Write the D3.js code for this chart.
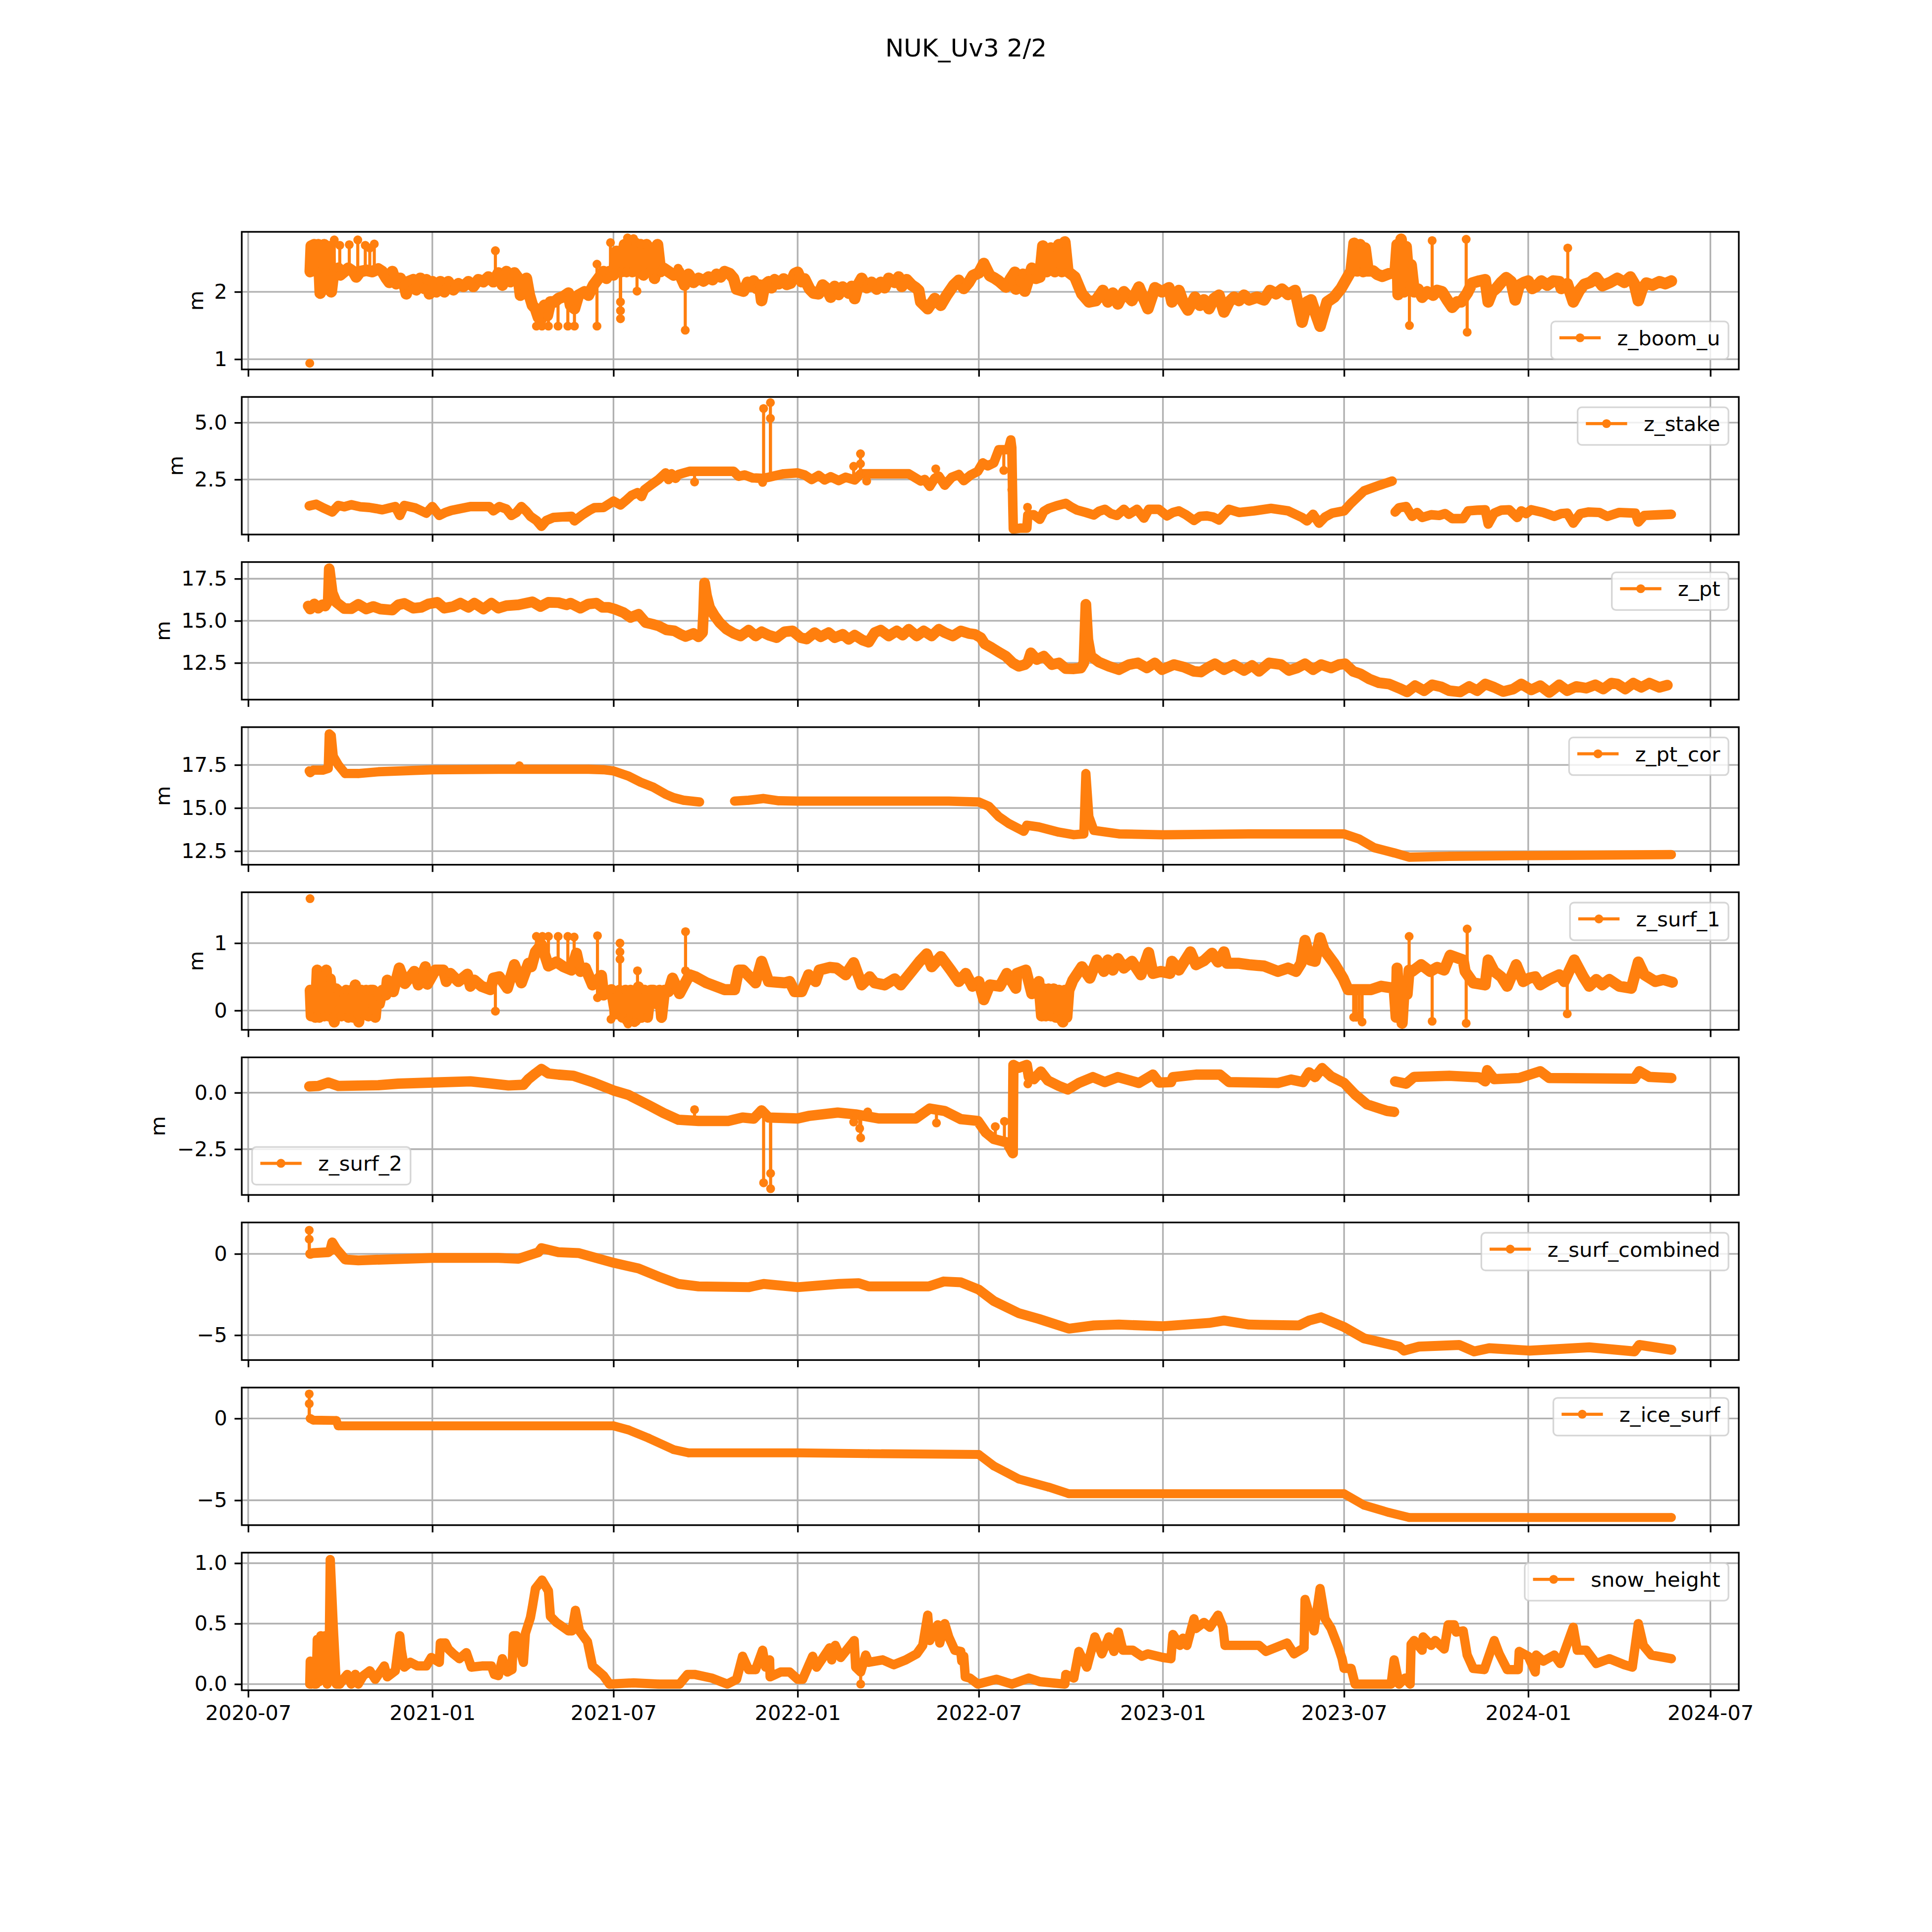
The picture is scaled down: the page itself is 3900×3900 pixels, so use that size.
<!DOCTYPE html>
<html>
<head>
<meta charset="utf-8">
<script src="https://cdn.jsdelivr.net/npm/d3@7"></script>
<style>
body { margin: 0; background: #fff; }
text { font-family: "DejaVu Sans", sans-serif; fill: #000; }
</style>
</head>
<body>
<div id="chart"></div>
<script>
// values: [days since 2020-07-01, value]
// null marks a data gap, spikes are [day, from, to] (from null = lone point)
const tickLabels = ["2020-07","2021-01","2021-07","2022-01","2022-07","2023-01","2023-07","2024-01","2024-07"];

const zBoomU = [[62,2.3],[63,2.68],[66,2.7],[68,2.3],[70,2.7],[72,1.98],[74,2.05],[76,2.7],[78,2.3],[81,2.67],[83,2.0],[85,2.25],[88,2.28],[90,2.35],[92,2.25],[96,2.3],[100,2.35],[105,2.3],[108,2.22],[112,2.3],[118,2.32],[124,2.3],[130,2.34],[134,2.3],[138,2.2],[141,2.14],[144,2.3],[148,2.12],[152,2.2],[156,2.1],[158,1.97],[160,2.15],[165,2.18],[168,2.03],[172,2.2],[176,2.05],[178,2.18],[181,1.97],[184,2.15],[188,2.0],[192,2.15],[196,2.0],[200,2.15],[205,2.03],[210,2.12],[215,2.08],[220,2.15],[225,2.08],[230,2.18],[235,2.15],[240,2.22],[245,2.15],[250,2.28],[254,2.1],[258,2.3],[262,2.15],[266,2.28],[270,2.2],[272,1.95],[276,2.0],[278,2.2],[281,1.95],[284,1.8],[287,1.75],[290,1.62],[293,1.6],[296,1.8],[299,1.65],[302,1.85],[306,1.85],[310,1.9],[315,1.93],[320,1.98],[322,1.8],[326,1.75],[330,1.95],[336,2.0],[340,1.95],[345,2.1],[350,2.2],[355,2.3],[358,2.2],[361,2.3],[365,2.25],[368,2.6],[370,2.3],[373,2.3],[376,2.7],[378,2.3],[381,2.75],[384,2.3],[387,2.72],[389,2.35],[392,2.7],[395,2.25],[398,2.7],[401,2.3],[404,2.65],[406,2.2],[409,2.7],[412,2.3],[415,2.35],[420,2.3],[425,2.25],[430,2.3],[436,2.1],[440,2.26],[445,2.14],[450,2.2],[455,2.16],[460,2.22],[464,2.18],[468,2.26],[472,2.22],[476,2.3],[481,2.27],[485,2.2],[488,2.04],[495,2.01],[499,2.14],[502,2.08],[505,2.16],[508,2.05],[511,2.1],[513,1.87],[516,2.1],[520,2.15],[523,2.06],[526,2.18],[530,2.12],[535,2.19],[538,2.11],[542,2.13],[546,2.27],[549,2.29],[553,2.15],[556,2.19],[561,2.04],[565,1.98],[570,1.97],[574,2.1],[578,2.05],[582,1.92],[586,2.08],[590,1.96],[594,2.07],[600,1.98],[603,2.08],[606,1.9],[610,2.12],[613,2.2],[618,2.06],[623,2.14],[628,2.04],[632,2.14],[636,2.06],[640,2.2],[646,2.14],[650,2.22],[653,2.08],[658,2.18],[663,2.1],[667,2.06],[670,2.02],[672,1.85],[679,1.75],[686,1.9],[692,1.8],[698,1.95],[705,2.1],[710,2.17],[715,2.05],[720,2.14],[724,2.24],[730,2.28],[735,2.42],[741,2.24],[746,2.2],[750,2.16],[757,2.07],[762,2.2],[766,2.29],[767,2.04],[771,2.15],[774,2.26],[776,2.01],[780,2.2],[783,2.35],[787,2.2],[791,2.22],[794,2.68],[798,2.3],[802,2.65],[806,2.3],[810,2.7],[813,2.3],[816,2.74],[819,2.3],[826,2.22],[833,1.97],[840,1.85],[847,1.87],[854,2.02],[859,1.85],[864,1.98],[869,1.82],[875,2.0],[883,1.87],[890,2.07],[899,1.75],[906,2.06],[913,2.0],[920,2.06],[923,1.85],[930,2.02],[934,1.85],[939,1.73],[946,1.92],[951,1.8],[955,1.88],[960,1.75],[965,1.9],[970,1.95],[975,1.7],[980,1.85],[985,1.92],[990,1.87],[995,1.95],[1000,1.88],[1008,1.92],[1015,1.88],[1021,2.02],[1027,1.97],[1033,2.04],[1039,1.96],[1046,2.02],[1053,1.55],[1058,1.85],[1062,1.88],[1066,1.7],[1071,1.49],[1078,1.85],[1085,1.92],[1092,2.05],[1102,2.31],[1105,2.72],[1108,2.31],[1111,2.7],[1114,2.3],[1116,2.65],[1119,2.31],[1124,2.31],[1128,2.26],[1133,2.23],[1140,2.27],[1146,2.29],[1148,2.7],[1149,1.96],[1152,2.78],[1155,2.0],[1157,2.67],[1160,2.1],[1162,2.4],[1165,2.0],[1169,2.04],[1173,1.92],[1178,2.0],[1184,1.95],[1188,2.02],[1193,2.0],[1198,1.88],[1203,1.77],[1208,1.85],[1212,1.85],[1218,1.98],[1223,2.13],[1230,2.16],[1236,2.18],[1239,1.85],[1243,2.0],[1247,2.05],[1252,2.14],[1257,2.21],[1262,2.15],[1266,1.88],[1270,2.1],[1275,2.14],[1279,2.16],[1283,2.05],[1287,2.08],[1292,2.16],[1298,2.1],[1304,2.16],[1310,2.15],[1312,2.05],[1318,2.12],[1324,1.85],[1330,2.02],[1335,2.11],[1341,2.14],[1347,2.21],[1353,2.09],[1361,2.14],[1368,2.2],[1375,2.14],[1381,2.22],[1385,2.12],[1389,1.87],[1393,2.05],[1397,2.13],[1403,2.1],[1410,2.15],[1416,2.12],[1422,2.16]];
const zBoomUSpikes = [[61.5,null,0.94],[86,2.3,2.77],[91.5,2.3,2.69],[101,2.35,2.7],[109.5,2.25,2.77],[117,2.3,2.69],[121.5,2.3,2.65],[126,2.3,2.71],[247,2.2,2.61],[288,1.75,1.49],[293.5,1.7,1.49],[300,1.8,1.49],[309.6,1.9,1.49],[319.4,1.98,1.49],[326,1.8,1.49],[348.5,2.2,1.49],[348.5,2.2,2.41],[362,2.3,2.73],[372,2.3,1.6],[372,2.3,1.72],[372,2.3,1.85],[379,2.3,2.8],[385,2.3,2.79],[388.5,2.3,2.01],[436.7,2.1,1.43],[429.6,2.3,2.35],[1160.3,2.1,1.5],[1183,2.0,2.76],[1217,2.0,2.78],[1218,2.0,1.4],[1318.5,2.1,2.65]];

const zStake = [[61,1.34],[68,1.41],[75,1.25],[84,1.07],[90,1.36],[96,1.3],[103,1.39],[112,1.3],[121,1.27],[128,1.22],[134,1.17],[147,1.31],[151.5,0.92],[156,1.36],[167,1.25],[178,1.02],[184,1.31],[191,0.92],[197,1.05],[203,1.14],[222,1.31],[241,1.31],[245,1.12],[251,1.31],[258,1.2],[263,0.92],[268,1.05],[273,1.31],[278,1.1],[282,0.88],[288,0.7],[293,0.44],[298,0.7],[305,0.83],[323,0.88],[326,0.68],[334,0.95],[342,1.17],[346,1.26],[355,1.27],[365,1.55],[372,1.38],[378,1.6],[383,1.8],[389,1.92],[393,1.75],[396,2.05],[403,2.28],[410,2.5],[417,2.79],[420,2.5],[423,2.75],[427,2.55],[430,2.72],[441,2.86],[485,2.86],[490,2.64],[496,2.7],[504,2.57],[514,2.55],[520,2.6],[535,2.75],[549,2.79],[556,2.7],[563,2.5],[570,2.68],[576,2.48],[582,2.62],[590,2.45],[597,2.6],[606,2.48],[612,2.75],[630,2.75],[660,2.75],[672,2.43],[676,2.5],[681,2.2],[686,2.55],[690,2.65],[696,2.25],[703,2.6],[710,2.72],[715,2.45],[722,2.7],[729,2.86],[734,3.23],[739,3.1],[745,3.23],[750,3.81],[758,3.81],[760,3.9],[762,4.24],[763,3.9],[764,1.34],[764.5,0.32],[771,0.36],[778,0.36],[779,0.94],[785,0.95],[791,0.75],[795,1.1],[800,1.23],[808,1.35],[817,1.45],[822,1.3],[828,1.16],[837,1.05],[845,0.94],[850,1.1],[856,1.19],[862,1.0],[868,0.92],[875,1.19],[880,0.97],[888,1.19],[895,0.8],[900,1.19],[910,1.19],[918,0.9],[924,1.05],[930,1.12],[937,0.95],[945,0.7],[951,0.88],[958,0.9],[964,0.85],[970,0.72],[980,1.19],[990,1.05],[1005,1.12],[1022,1.23],[1039,1.12],[1053,0.83],[1058,0.68],[1064,0.97],[1070,0.58],[1076,0.85],[1083,1.02],[1095,1.12],[1102,1.46],[1115,2.0],[1130,2.24],[1143,2.43],[1145,null],[1146,1.07],[1150,1.26],[1157,1.31],[1163,0.88],[1168,1.05],[1173,0.83],[1182,0.95],[1190,0.92],[1196,1.0],[1203,0.78],[1214,0.78],[1219,1.12],[1228,1.15],[1236,1.17],[1239,0.54],[1245,1.02],[1252,1.15],[1260,1.17],[1268,0.83],[1272,1.12],[1277,1.0],[1282,1.17],[1294,1.05],[1305,0.88],[1312,1.0],[1318,1.02],[1324,0.58],[1331,1.0],[1339,1.07],[1350,1.05],[1358,0.88],[1370,1.05],[1386,1.02],[1389,0.63],[1395,0.92],[1410,0.95],[1422,0.97]];
const zStakeSpikes = [[446,2.8,2.39],[514,2.55,2.37],[515,2.7,5.62],[521.8,2.7,5.88],[521.8,2.7,5.19],[605,2.6,3.08],[611.8,2.7,3.63],[611.8,2.7,3.19],[618,2.75,2.43],[687,2.5,2.97],[755,3.8,2.9],[763,3.9,2.05],[778.7,0.9,1.28]];

const zPt = [[60,15.88],[62,15.7],[66,16.0],[70,15.75],[74,15.95],[77,15.88],[80,16.2],[81,18.09],[84,16.67],[88,16.1],[96,15.73],[103,15.72],[110,15.98],[118,15.7],[125,15.85],[132,15.7],[144,15.64],[150,15.95],[156,16.03],[165,15.75],[173,15.8],[180,16.0],[189,16.1],[196,15.75],[205,15.85],[212,16.05],[220,15.8],[226,16.05],[235,15.7],[243,16.05],[250,15.75],[258,15.9],[270,15.95],[284,16.13],[292,15.85],[300,16.1],[310,16.08],[318,15.95],[322,16.05],[332,15.75],[340,16.0],[348,16.05],[354,15.8],[360,15.8],[366,15.7],[375,15.49],[382,15.2],[390,15.39],[397,14.9],[404,14.8],[410,14.7],[418,14.46],[426,14.4],[432,14.2],[437,14.07],[445,14.25],[450,14.05],[454,14.3],[455,15.5],[456,17.25],[458,16.5],[461,15.8],[466,15.3],[471,14.9],[478,14.5],[485,14.26],[492,14.1],[500,14.45],[507,14.1],[513,14.35],[520,14.15],[528,14.0],[536,14.35],[544,14.4],[552,14.0],[558,13.92],[566,14.3],[572,14.05],[580,14.3],[586,14.0],[594,14.2],[600,13.9],[606,14.15],[614,13.85],[620,13.73],[626,14.3],[632,14.45],[640,14.1],[648,14.4],[654,14.15],[660,14.5],[668,14.1],[675,14.4],[683,14.1],[690,14.5],[696,14.3],[704,14.1],[712,14.4],[720,14.25],[726,14.2],[732,14.0],[736,13.63],[743,13.4],[750,13.14],[757,12.9],[764,12.5],[770,12.3],[776,12.4],[779,12.55],[782,13.1],[788,12.7],[795,12.9],[803,12.4],[810,12.5],[817,12.16],[825,12.15],[832,12.2],[835,12.5],[837,15.98],[839,13.9],[842,12.9],[850,12.55],[860,12.3],[870,12.1],[880,12.4],[889,12.5],[898,12.2],[906,12.5],[913,12.1],[925,12.4],[935,12.25],[945,12.0],[952,11.96],[958,12.2],[966,12.45],[975,12.1],[985,12.4],[995,12.05],[1003,12.35],[1010,12.0],[1020,12.5],[1032,12.4],[1040,12.05],[1048,12.2],[1056,12.45],[1064,12.1],[1072,12.4],[1082,12.2],[1090,12.4],[1096,12.45],[1104,12.0],[1111,11.86],[1120,11.55],[1130,11.32],[1140,11.25],[1150,11.0],[1158,10.78],[1166,11.15],[1175,10.85],[1183,11.2],[1192,11.08],[1200,10.85],[1211,10.78],[1220,11.1],[1228,10.85],[1236,11.25],[1245,11.05],[1254,10.8],[1264,10.95],[1272,11.25],[1282,10.9],[1291,11.15],[1300,10.74],[1310,11.2],[1318,10.85],[1327,11.1],[1337,11.0],[1346,11.2],[1354,10.95],[1362,11.3],[1368,11.25],[1376,10.95],[1384,11.3],[1392,11.05],[1400,11.3],[1410,11.05],[1418,11.18]];
const zPtSpikes = [];

const zPtCor = [[61,17.15],[62,17.05],[65,17.2],[75,17.2],[80,17.3],[81,19.3],[83,19.2],[85,18.0],[90,17.5],[97,17.0],[110,17.0],[130,17.1],[184,17.22],[250,17.25],[270,17.25],[300,17.25],[340,17.25],[355,17.22],[365,17.15],[380,16.85],[392,16.5],[405,16.2],[417,15.8],[425,15.6],[435,15.45],[451,15.35],[452,null],[486,15.4],[500,15.45],[515,15.55],[530,15.42],[549,15.4],[600,15.4],[700,15.4],[730,15.35],[740,15.1],[750,14.5],[760,14.1],[775,13.65],[778,14.0],[790,13.9],[810,13.6],[825,13.45],[835,13.5],[837,17.0],[840,14.5],[845,13.7],[870,13.5],[914,13.45],[1000,13.5],[1095,13.5],[1110,13.2],[1125,12.7],[1145,12.4],[1160,12.15],[1200,12.2],[1300,12.25],[1422,12.3]];
const zPtCorSpikes = [[271,17.25,17.45]];

const zSurf1 = [[62,0.3],[63,-0.08],[65,0.3],[67,-0.1],[69,0.6],[71,-0.1],[74,0.3],[76,-0.08],[78,0.6],[80,-0.08],[82,0.47],[84,0.1],[85,-0.1],[86,-0.17],[88,0.32],[91,0.28],[93,-0.08],[95,0.25],[98,0.3],[100,-0.1],[103,0.3],[105,-0.1],[107,0.38],[109,-0.05],[110.5,-0.17],[113,0.3],[116,0.08],[118,0.3],[120,-0.08],[122,0.3],[125,0.3],[127,-0.1],[129,0.25],[131,0.1],[134,0.3],[137.5,0.23],[139,0.45],[145,0.28],[151,0.63],[156.6,0.4],[166,0.58],[170,0.38],[177,0.65],[179,0.39],[187,0.6],[195,0.6],[198,0.43],[202,0.55],[210,0.43],[219,0.54],[222,0.36],[226,0.45],[233,0.36],[242,0.31],[245,0.48],[251,0.5],[259,0.33],[266,0.68],[273,0.41],[280,0.7],[283,0.65],[287,0.87],[293,0.98],[300,0.66],[308,0.72],[315,0.65],[323,0.6],[328,0.85],[332,0.58],[337,0.63],[344,0.38],[353,0.52],[355,0.23],[363,0.31],[367,-0.05],[371,0.3],[374,-0.1],[377,0.3],[379,-0.15],[382,0.3],[384,-0.15],[387,-0.15],[390,0.35],[393,-0.1],[396,0.3],[399,-0.1],[402,0.3],[405,0.3],[408,0.1],[411,0.3],[413,-0.1],[416,0.3],[420,0.28],[424,0.48],[431,0.25],[441,0.53],[447,0.5],[458,0.41],[476,0.31],[486,0.31],[490,0.6],[494.5,0.6],[507,0.41],[513,0.73],[520,0.43],[536,0.41],[541,0.43],[546,0.28],[553,0.28],[560,0.53],[567,0.43],[570.7,0.6],[581,0.64],[588,0.63],[597,0.53],[605,0.71],[613,0.38],[621,0.5],[626,0.41],[636,0.38],[646,0.47],[652,0.38],[664,0.6],[671,0.73],[678,0.84],[683,0.65],[692,0.8],[702,0.6],[710,0.43],[717,0.55],[723.7,0.36],[730,0.43],[735,0.16],[741,0.38],[751,0.36],[758,0.55],[767,0.33],[768,0.55],[777,0.6],[783,0.25],[790,0.43],[792.7,-0.08],[795,0.32],[797,-0.08],[800,0.32],[802,-0.08],[805,0.32],[807,-0.1],[810,0.3],[812,-0.12],[814,-0.17],[816,0.3],[818,-0.1],[820,0.3],[824,0.45],[833,0.65],[841,0.48],[848,0.75],[855,0.58],[859,0.75],[864,0.6],[869,0.77],[875,0.63],[883,0.73],[892,0.53],[899.7,0.86],[904,0.55],[912,0.58],[921,0.55],[923,0.73],[930,0.6],[941.5,0.87],[947,0.68],[955,0.74],[963,0.85],[969,0.72],[975,0.87],[978,0.7],[990,0.7],[1000,0.68],[1015,0.66],[1029,0.58],[1039,0.63],[1047,0.58],[1052,0.7],[1056,1.04],[1061,0.75],[1066,0.73],[1071,1.08],[1075,0.9],[1085,0.7],[1094,0.48],[1099,0.31],[1104,0.31],[1122,0.31],[1132,0.36],[1145,0.33],[1147,-0.1],[1148,0.63],[1150,-0.1],[1152,0.4],[1153,-0.19],[1155,0.3],[1158,0.24],[1160,0.6],[1163,0.58],[1172,0.68],[1181,0.58],[1188,0.64],[1195,0.6],[1201,0.82],[1214,0.75],[1216,0.58],[1224,0.41],[1236,0.38],[1239,0.75],[1245,0.58],[1252,0.5],[1258,0.36],[1267,0.68],[1274,0.43],[1280,0.48],[1286,0.5],[1291,0.38],[1300,0.46],[1310,0.53],[1315,0.43],[1325,0.75],[1334,0.5],[1340,0.36],[1347,0.46],[1353,0.38],[1360,0.46],[1370,0.36],[1382,0.33],[1389,0.72],[1395,0.53],[1406,0.43],[1414,0.46],[1423,0.42]];
const zSurf1Spikes = [[61.8,null,1.66],[288,0.8,1.1],[294,0.85,1.1],[300,0.7,1.1],[309.7,0.72,1.1],[319.4,0.62,1.1],[325.7,0.7,1.09],[349,0.45,1.11],[349,0.45,0.19],[247,0.45,-0.01],[362.5,0.31,-0.13],[371.5,0.3,1.0],[371.5,0.3,0.87],[371.5,0.3,0.76],[379.5,0.3,-0.2],[386,0.3,-0.18],[389,0.3,0.59],[413,0.3,-0.12],[437,0.35,1.17],[437,0.35,0.59],[1104.6,0.31,-0.1],[1107,0.31,-0.1],[1110,0.31,-0.08],[1113,0.31,-0.17],[1160,0.6,1.1],[1183,0.58,-0.16],[1218,0.7,1.21],[1217,0.7,-0.19],[1318,0.5,-0.05]];

const zSurf2 = [[61,0.28],[70,0.3],[80,0.45],[90,0.3],[130,0.33],[150,0.4],[184,0.45],[222,0.5],[240,0.42],[260,0.32],[275,0.35],[280,0.6],[287,0.85],[293,1.05],[300,0.85],[310,0.8],[325,0.75],[345,0.45],[365,0.1],[380,-0.1],[400,-0.55],[415,-0.9],[430,-1.2],[450,-1.25],[480,-1.25],[494,-1.1],[505,-1.15],[513,-0.78],[520,-1.1],[549,-1.14],[560,-1.03],[589,-0.88],[607,-0.96],[630,-1.14],[667,-1.14],[681,-0.7],[696,-0.81],[712,-1.17],[729,-1.25],[737,-1.76],[745,-2.05],[758,-2.2],[764,-2.68],[764.3,-0.42],[764.6,1.23],[770,1.1],[778,1.23],[780,0.7],[785,0.6],[792,0.94],[799,0.54],[810,0.3],[819,0.14],[830,0.43],[844,0.69],[856,0.47],[869,0.69],[890,0.43],[904,0.8],[910,0.45],[922,0.47],[924,0.69],[947,0.8],[971,0.8],[980,0.47],[1029,0.43],[1042,0.58],[1054,0.47],[1060,0.9],[1066,0.69],[1073,1.09],[1082,0.72],[1095,0.43],[1106,-0.08],[1118,-0.52],[1138,-0.81],[1145,-0.85],[1145.5,null],[1146,0.5],[1157,0.4],[1165,0.7],[1200,0.75],[1230,0.68],[1236,0.5],[1238,1.0],[1245,0.6],[1270,0.65],[1291,0.95],[1300,0.65],[1385,0.62],[1390,0.95],[1400,0.7],[1422,0.65]];
const zSurf2Spikes = [[446,-1.2,-0.75],[515,-1.1,-3.99],[522,-1.1,-3.57],[522,-1.1,-4.25],[605,-0.96,-1.3],[611,-1,-1.58],[612,-1,-2.0],[619,-1,-0.85],[687.7,-0.9,-1.34],[746.5,-2,-1.5],[755.6,-2.1,-1.27],[779,1.1,0.39]];

const zSurfCombined = [[62,0],[65,0.05],[80,0.1],[82,0.2],[84,0.7],[88,0.3],[97,-0.35],[110,-0.4],[184,-0.25],[250,-0.25],[270,-0.3],[290,0.1],[293,0.35],[310,0.1],[330,0.05],[365,-0.55],[390,-0.9],[410,-1.4],[430,-1.85],[450,-2.0],[500,-2.05],[515,-1.85],[549,-2.05],[590,-1.85],[610,-1.8],[620,-2.0],[680,-2.0],[695,-1.7],[712,-1.75],[730,-2.2],[745,-2.9],[770,-3.65],[790,-4.0],[820,-4.6],[845,-4.4],[870,-4.35],[914,-4.45],[960,-4.25],[975,-4.1],[1000,-4.35],[1050,-4.4],[1060,-4.1],[1072,-3.9],[1095,-4.5],[1115,-5.2],[1150,-5.7],[1155,-5.95],[1170,-5.7],[1210,-5.6],[1225,-6.0],[1240,-5.8],[1280,-5.95],[1340,-5.75],[1385,-6.0],[1390,-5.6],[1422,-5.9]];
const zSurfCombinedSpikes = [[61,0,1.45],[61,0,0.9]];

const zIceSurf = [[62,0],[65,-0.1],[88,-0.12],[90,-0.45],[365,-0.45],[380,-0.7],[400,-1.2],[425,-1.9],[440,-2.1],[549,-2.1],[620,-2.15],[730,-2.2],[745,-2.9],[770,-3.7],[800,-4.2],[820,-4.6],[1095,-4.6],[1115,-5.3],[1140,-5.75],[1160,-6.05],[1422,-6.05]];
const zIceSurfSpikes = [[61,0,1.5],[61,0,0.9]];

const snowHeight = [[61.5,0],[62,0.19],[63,0],[64,0.1],[66,0],[68,0],[69,0.37],[71,0.02],[72.6,0.4],[75,0.1],[77,0.4],[79,0],[81,0.3],[82,1.03],[82.7,0.9],[85,0.48],[88,0],[91.5,0],[96,0.05],[99,0.08],[103,0],[107,0.08],[110,0],[115,0.07],[121.5,0.11],[127,0.04],[136,0.15],[139,0.06],[147,0.11],[151.5,0.4],[153,0.28],[156,0.14],[162,0.18],[169,0.15],[178,0.15],[183,0.22],[191,0.18],[192,0.34],[197,0.34],[200,0.29],[205,0.25],[211,0.21],[218,0.26],[223,0.14],[233.6,0.15],[243,0.15],[246,0.08],[250,0.07],[254,0.21],[259,0.1],[263.6,0.12],[265,0.4],[268,0.4],[275,0.18],[277,0.42],[282,0.55],[284,0.64],[287,0.79],[293.6,0.86],[300,0.77],[302,0.56],[308,0.51],[320,0.44],[323.5,0.44],[327,0.61],[331,0.44],[339,0.35],[344,0.15],[355,0.07],[361,0],[385,0.01],[410,0],[431,0],[439,0.08],[446,0.08],[463,0.05],[478.6,0],[488,0.04],[494,0.23],[500,0.12],[507,0.12],[514,0.28],[517,0.14],[521,0.2],[521.5,0.06],[532,0.1],[541,0.1],[549,0.04],[554,0.04],[564,0.23],[568,0.14],[581,0.3],[583,0.2],[586.6,0.32],[592,0.22],[605.5,0.36],[607,0.14],[612,0.1],[617,0.24],[620,0.18],[634,0.2],[645,0.16],[657,0.2],[668,0.25],[674,0.32],[679,0.57],[681,0.36],[689,0.49],[691,0.34],[696,0.5],[700,0.39],[706,0.28],[712,0.27],[713,0.19],[715,0.23],[716.5,0.06],[721,0.05],[729,0],[747.6,0.04],[763,0],[780,0.05],[791,0.02],[816,0],[817,0.08],[825,0.05],[830,0.27],[838,0.14],[846,0.39],[853,0.25],[860,0.39],[865,0.27],[869.5,0.43],[874,0.28],[884,0.28],[893,0.23],[899,0.25],[914,0.22],[922,0.21],[924,0.41],[931,0.32],[934,0.38],[938,0.32],[945,0.54],[947,0.46],[955,0.51],[961,0.47],[969,0.57],[974,0.47],[976,0.32],[991,0.32],[1010,0.32],[1017,0.27],[1038,0.34],[1045,0.25],[1055,0.3],[1056,0.7],[1065,0.44],[1071,0.79],[1076,0.54],[1082,0.46],[1089,0.31],[1093,0.21],[1095,0.13],[1102,0.13],[1106,0],[1142,0],[1145,0.2],[1150,0],[1156,0.05],[1161,0],[1162,0.33],[1165,0.36],[1173,0.28],[1174,0.39],[1182,0.32],[1186,0.36],[1195,0.29],[1199,0.49],[1205,0.49],[1207,0.43],[1214,0.44],[1218,0.24],[1224,0.13],[1235,0.12],[1245,0.36],[1250,0.25],[1258,0.12],[1269,0.12],[1270,0.27],[1279,0.23],[1286,0.1],[1287,0.24],[1294,0.19],[1305,0.24],[1311,0.17],[1324,0.47],[1328,0.28],[1337,0.28],[1347,0.17],[1360,0.21],[1375,0.16],[1383,0.14],[1389,0.5],[1394,0.32],[1402,0.24],[1422,0.21]];
const snowHeightSpikes = [[612,0.12,0]];

const panels = [
  {name: "z_boom_u", data: zBoomU, spikes: zBoomUSpikes, ylim: [0.848, 2.89], ticks: [1, 2], fmt: "d", unit: 410, legend: "lr", band: 5.6},
  {name: "z_stake", data: zStake, spikes: zStakeSpikes, ylim: [0.08, 6.13], ticks: [2.5, 5], fmt: ".1f", unit: 369, legend: "ur", band: 4.6},
  {name: "z_pt", data: zPt, spikes: zPtSpikes, ylim: [10.32, 18.49], ticks: [12.5, 15, 17.5], fmt: ".1f", unit: 343, legend: "ur", band: 5.2},
  {name: "z_pt_cor", data: zPtCor, spikes: zPtCorSpikes, ylim: [11.71, 19.69], ticks: [12.5, 15, 17.5], fmt: ".1f", unit: 343, legend: "ur", band: 4.5},
  {name: "z_surf_1", data: zSurf1, spikes: zSurf1Spikes, ylim: [-0.287, 1.755], ticks: [0, 1], fmt: "d", unit: 410, legend: "ur", band: 5.4},
  {name: "z_surf_2", data: zSurf2, spikes: zSurf2Spikes, ylim: [-4.526, 1.564], ticks: [-2.5, 0], fmt: ".1f", unit: 333, legend: "ll", band: 5.0},
  {name: "z_surf_combined", data: zSurfCombined, spikes: zSurfCombinedSpikes, ylim: [-6.53, 1.93], ticks: [-5, 0], fmt: "d", unit: null, legend: "ur", band: 4.8},
  {name: "z_ice_surf", data: zIceSurf, spikes: zIceSurfSpikes, ylim: [-6.52, 1.89], ticks: [-5, 0], fmt: "d", unit: null, legend: "ur", band: 4.3},
  {name: "snow_height", data: snowHeight, spikes: snowHeightSpikes, ylim: [-0.051, 1.087], ticks: [0, 0.5, 1], fmt: ".1f", unit: null, legend: "ur", band: 4.5}
];

const W = 3900, H = 3900;
const pt = 300 / 72;   // figure is 13x13 in at 300 dpi
const margin = {top: 468, right: 390, bottom: 488, left: 488};
const orange = "#ff7f0e", gridCol = "#b0b0b0";
const fontSize = 10 * pt;
const hgap = 0.2;
const panelH = (H - margin.top - margin.bottom) / (panels.length + (panels.length - 1) * hgap);
const panelW = W - margin.left - margin.right;

const t0 = d3.utcParse("%Y-%m-%d")("2020-07-01");
const toDate = d => new Date(+t0 + d * 864e5);
const tickDates = tickLabels.map(d3.utcParse("%Y-%m"));

const x = d3.scaleUtc()
    .domain([toDate(-6.43), toDate(1489.4)])
    .range([0, panelW]);

const svg = d3.select("#chart").append("svg")
    .attr("width", W)
    .attr("height", H)
    .style("display", "block");

svg.append("rect").attr("width", W).attr("height", H).attr("fill", "#fff");

svg.append("text")
    .attr("x", W / 2)
    .attr("y", 114)
    .attr("text-anchor", "middle")
    .attr("font-size", 12 * pt)
    .text("NUK_Uv3 2/2");

panels.forEach(function(p, i) {
    const g = svg.append("g")
        .attr("transform", "translate(" + margin.left + "," + (margin.top + i * panelH * (1 + hgap)) + ")");
    const y = d3.scaleLinear().domain(p.ylim).range([panelH, 0]);

    // grid
    g.selectAll(".gx").data(tickDates).enter().append("line")
        .attr("x1", d => x(d)).attr("x2", d => x(d))
        .attr("y1", 0).attr("y2", panelH)
        .attr("stroke", gridCol).attr("stroke-width", 0.8 * pt);
    g.selectAll(".gy").data(p.ticks).enter().append("line")
        .attr("x1", 0).attr("x2", panelW)
        .attr("y1", d => y(d)).attr("y2", d => y(d))
        .attr("stroke", gridCol).attr("stroke-width", 0.8 * pt);

    // hourly markers overlap into a solid band, so the body is a marker-wide line
    const line = d3.line()
        .defined(d => d[1] !== null)
        .x(d => x(toDate(d[0])))
        .y(d => y(d[1]));
    g.append("path")
        .datum(p.data)
        .attr("d", line)
        .attr("fill", "none")
        .attr("stroke", orange)
        .attr("stroke-width", p.band * pt)
        .attr("stroke-linejoin", "round")
        .attr("stroke-linecap", "round");
    g.selectAll(".pt").data(p.data.filter(d => d[1] !== null)).enter().append("circle")
        .attr("cx", d => x(toDate(d[0])))
        .attr("cy", d => y(d[1]))
        .attr("r", 2.15 * pt)
        .attr("fill", orange);

    // outliers, thin connector and one marker
    g.selectAll(".sp").data(p.spikes.filter(d => d[1] !== null)).enter().append("line")
        .attr("x1", d => x(toDate(d[0]))).attr("x2", d => x(toDate(d[0])))
        .attr("y1", d => y(d[1])).attr("y2", d => y(d[2]))
        .attr("stroke", orange).attr("stroke-width", 1.5 * pt);
    g.selectAll(".tip").data(p.spikes).enter().append("circle")
        .attr("cx", d => x(toDate(d[0])))
        .attr("cy", d => y(d[2]))
        .attr("r", 2.15 * pt)
        .attr("fill", orange);

    // axes
    const xAxis = d3.axisBottom(x)
        .tickValues(tickDates)
        .tickFormat(d3.utcFormat("%Y-%m"))
        .tickSize(3.5 * pt)
        .tickPadding(3.5 * pt);
    const gx = g.append("g")
        .attr("transform", "translate(0," + panelH + ")")
        .call(xAxis);
    const yAxis = d3.axisLeft(y)
        .tickValues(p.ticks)
        .tickFormat(d3.format(p.fmt))
        .tickSize(3.5 * pt)
        .tickPadding(3.5 * pt);
    const gy = g.append("g").call(yAxis);
    [gx, gy].forEach(a => {
        a.select(".domain").remove();
        a.attr("font-family", null).attr("font-size", fontSize);
        a.selectAll("line").attr("stroke", "#000").attr("stroke-width", 0.8 * pt);
    });
    if (i < panels.length - 1) gx.selectAll("text").remove();
    else gx.selectAll("text").attr("dy", null).attr("y", 3.5 * pt + 3.5 * pt + 0.76 * fontSize - 1);

    // spines
    g.append("rect")
        .attr("width", panelW).attr("height", panelH)
        .attr("fill", "none").attr("stroke", "#000").attr("stroke-width", 0.8 * pt);

    if (p.unit !== null) {
        svg.append("text")
            .attr("transform", "translate(" + p.unit + "," + (margin.top + i * panelH * (1 + hgap) + panelH / 2) + ") rotate(-90)")
            .attr("text-anchor", "middle")
            .attr("font-size", fontSize)
            .text("m");
    }

    // legend
    const lg = g.append("g");
    const label = lg.append("text").attr("font-size", fontSize).text(p.name);
    const pad = 0.4 * fontSize, handle = 2 * fontSize, gap = 0.8 * fontSize, edge = 0.5 * fontSize;
    const lw = 2 * pad + handle + gap + label.node().getComputedTextLength();
    const lh = 76;
    const lx = p.legend === "ll" ? edge : panelW - edge - lw;
    const ly = p.legend === "ur" ? edge : panelH - edge - lh;
    lg.insert("rect", "text")
        .attr("x", lx).attr("y", ly)
        .attr("width", lw).attr("height", lh)
        .attr("rx", 0.2 * fontSize)
        .attr("fill", "#fff").attr("fill-opacity", 0.8)
        .attr("stroke", "#ccc").attr("stroke-opacity", 0.8).attr("stroke-width", 0.8 * pt);
    lg.insert("line", "text")
        .attr("x1", lx + pad).attr("x2", lx + pad + handle)
        .attr("y1", ly + 33).attr("y2", ly + 33)
        .attr("stroke", orange).attr("stroke-width", 1.5 * pt);
    lg.insert("circle", "text")
        .attr("cx", lx + pad + handle / 2).attr("cy", ly + 33)
        .attr("r", 2.15 * pt).attr("fill", orange);
    label.attr("x", lx + pad + handle + gap).attr("y", ly + 48);
});
</script>
</body>
</html>
